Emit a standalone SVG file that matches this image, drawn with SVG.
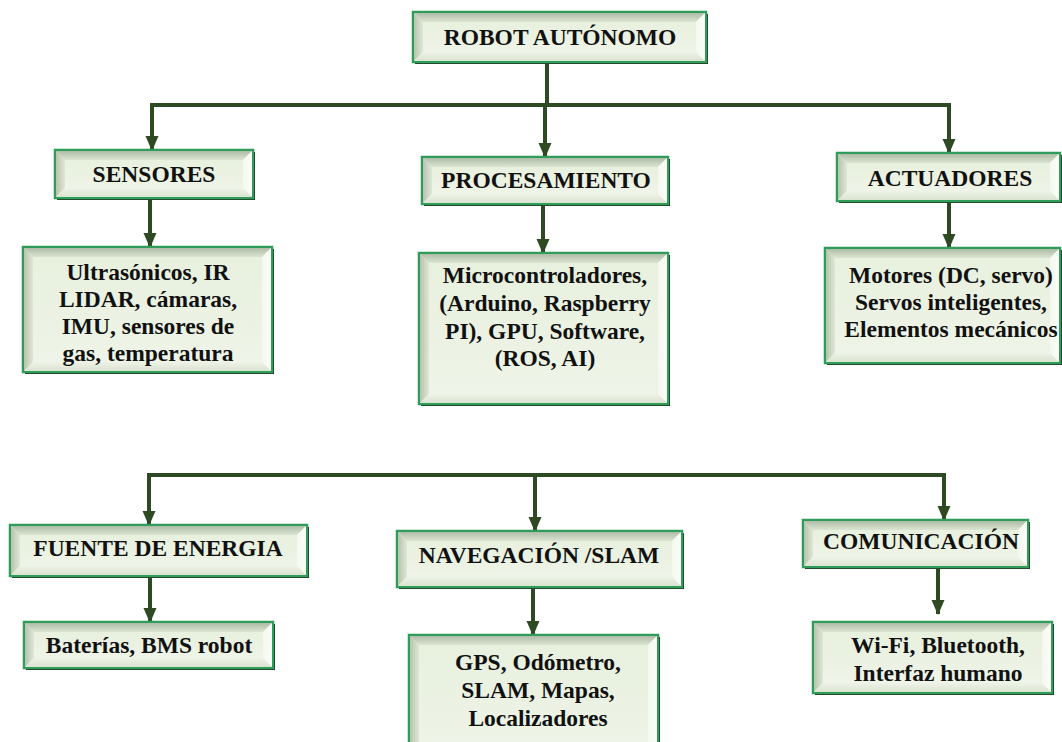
<svg xmlns="http://www.w3.org/2000/svg" width="1062" height="742" viewBox="0 0 1062 742">
  <defs>
    <linearGradient id="gTop" x1="0" y1="0" x2="0" y2="1">
      <stop offset="0" stop-color="#aebca7"/>
      <stop offset="1" stop-color="#dbe4d2"/>
    </linearGradient>
    <linearGradient id="gLeft" x1="0" y1="0" x2="1" y2="0">
      <stop offset="0" stop-color="#b6c3ae"/>
      <stop offset="1" stop-color="#dfe7d6"/>
    </linearGradient>
    <linearGradient id="gRight" x1="0" y1="0" x2="1" y2="0">
      <stop offset="0" stop-color="#f4f8ef"/>
      <stop offset="1" stop-color="#fbfdf8"/>
    </linearGradient>
    <linearGradient id="gBottom" x1="0" y1="0" x2="0" y2="1">
      <stop offset="0" stop-color="#eef3e7"/>
      <stop offset="1" stop-color="#dae3d0"/>
    </linearGradient>
    <linearGradient id="gFace" x1="0" y1="0" x2="0" y2="1">
      <stop offset="0" stop-color="#e8f0de"/>
      <stop offset="1" stop-color="#eef4e7"/>
    </linearGradient>
    <marker id="ah" markerUnits="userSpaceOnUse" markerWidth="16" markerHeight="16" viewBox="0 0 16 16" refX="14" refY="8" orient="auto">
      <path d="M0,1.5 L15,8 L0,14.5 Z" fill="#2e4a23"/>
    </marker>
  </defs>
  <style>
    .shadow { fill: #1f331f; }
    .frame { fill: url(#gFace); stroke: #2f9d59; stroke-width: 2.5; }
    .bt { fill: url(#gTop); }
    .bl { fill: url(#gLeft); }
    .br { fill: url(#gRight); }
    .bb { fill: url(#gBottom); }
    .face { fill: url(#gFace); }
    .wire { fill: none; stroke: #2e4a23; stroke-width: 4; }
    .arr { fill: none; stroke: #2e4a23; stroke-width: 4; marker-end: url(#ah); }
    text { font-family: "Liberation Serif", "Times New Roman", serif; font-weight: bold; font-size: 23.5px; fill: #111; text-anchor: middle; }
  </style>

  <rect width="1062" height="742" fill="#ffffff"/>

  <!-- connectors -->
  <g id="connectors">
    <path class="wire" d="M547,62 V105"/>
    <path class="wire" d="M152,105 H949"/>
    <path class="arr" d="M152,103 V150"/>
    <path class="arr" d="M545,105 V157"/>
    <path class="arr" d="M949,103 V153"/>
    <path class="arr" d="M150,198 V247"/>
    <path class="arr" d="M543,204 V253"/>
    <path class="arr" d="M949,201 V248"/>

    <path class="wire" d="M149,475 H944"/>
    <path class="arr" d="M149,473 V525"/>
    <path class="arr" d="M535,475 V531"/>
    <path class="arr" d="M944,473 V520"/>
    <path class="arr" d="M150,576 V622"/>
    <path class="arr" d="M533,587 V635"/>
    <path class="arr" d="M938,567 V614"/>
  </g>

  <!-- ROBOT AUTÓNOMO : 413,12 293x50 -->
  <g id="robot">
    <rect class="shadow" x="415" y="14" width="293" height="50"/>
    <rect class="frame" x="413" y="12" width="293" height="50"/>
    <polygon class="bt" points="414,13 705,13 696,22 423,22"/>
    <polygon class="bl" points="414,13 423,22 423,52 414,61"/>
    <polygon class="br" points="705,13 705,61 696,52 696,22"/>
    <polygon class="bb" points="414,61 423,52 696,52 705,61"/>
    <rect class="face" x="423" y="22" width="273" height="30"/>
    <text x="560" y="45">ROBOT AUTÓNOMO</text>
  </g>

  <!-- SENSORES : 55,150 198x48 -->
  <g id="sensores">
    <rect class="shadow" x="57" y="152" width="198" height="48"/>
    <rect class="frame" x="55" y="150" width="198" height="48"/>
    <polygon class="bt" points="56,151 252,151 243,160 65,160"/>
    <polygon class="bl" points="56,151 65,160 65,188 56,197"/>
    <polygon class="br" points="252,151 252,197 243,188 243,160"/>
    <polygon class="bb" points="56,197 65,188 243,188 252,197"/>
    <rect class="face" x="65" y="160" width="178" height="28"/>
    <text x="154" y="182">SENSORES</text>
  </g>

  <!-- sensor list : 23,247 249x125 -->
  <g id="sensores-det">
    <rect class="shadow" x="25" y="249" width="249" height="125"/>
    <rect class="frame" x="23" y="247" width="249" height="125"/>
    <polygon class="bt" points="24,248 271,248 262,257 33,257"/>
    <polygon class="bl" points="24,248 33,257 33,362 24,371"/>
    <polygon class="br" points="271,248 271,371 262,362 262,257"/>
    <polygon class="bb" points="24,371 33,362 262,362 271,371"/>
    <rect class="face" x="33" y="257" width="229" height="105"/>
    <text x="148" y="280">Ultrasónicos, IR</text>
    <text x="148" y="307">LIDAR, cámaras,</text>
    <text x="148" y="334">IMU, sensores de</text>
    <text x="148" y="361">gas, temperatura</text>
  </g>

  <!-- PROCESAMIENTO : 422,157 246x47 -->
  <g id="procesamiento">
    <rect class="shadow" x="424" y="159" width="246" height="47"/>
    <rect class="frame" x="422" y="157" width="246" height="47"/>
    <polygon class="bt" points="423,158 667,158 658,167 432,167"/>
    <polygon class="bl" points="423,158 432,167 432,194 423,203"/>
    <polygon class="br" points="667,158 667,203 658,194 658,167"/>
    <polygon class="bb" points="423,203 432,194 658,194 667,203"/>
    <rect class="face" x="432" y="167" width="226" height="27"/>
    <text x="546" y="188">PROCESAMIENTO</text>
  </g>

  <!-- processing list : 419,253 249x151 -->
  <g id="procesamiento-det">
    <rect class="shadow" x="421" y="255" width="249" height="151"/>
    <rect class="frame" x="419" y="253" width="249" height="151"/>
    <polygon class="bt" points="420,254 667,254 658,263 429,263"/>
    <polygon class="bl" points="420,254 429,263 429,394 420,403"/>
    <polygon class="br" points="667,254 667,403 658,394 658,263"/>
    <polygon class="bb" points="420,403 429,394 658,394 667,403"/>
    <rect class="face" x="429" y="263" width="229" height="131"/>
    <text x="545" y="283">Microcontroladores,</text>
    <text x="545" y="311">(Arduino, Raspberry</text>
    <text x="545" y="339">PI), GPU, Software,</text>
    <text x="545" y="366">(ROS, AI)</text>
  </g>

  <!-- ACTUADORES : 837,153 223x48 -->
  <g id="actuadores">
    <rect class="shadow" x="839" y="155" width="223" height="48"/>
    <rect class="frame" x="837" y="153" width="223" height="48"/>
    <polygon class="bt" points="838,154 1059,154 1050,163 847,163"/>
    <polygon class="bl" points="838,154 847,163 847,191 838,200"/>
    <polygon class="br" points="1059,154 1059,200 1050,191 1050,163"/>
    <polygon class="bb" points="838,200 847,191 1050,191 1059,200"/>
    <rect class="face" x="847" y="163" width="203" height="28"/>
    <text x="950" y="186">ACTUADORES</text>
  </g>

  <!-- actuator list : 825,248 235x115 -->
  <g id="actuadores-det">
    <rect class="shadow" x="827" y="250" width="235" height="115"/>
    <rect class="frame" x="825" y="248" width="235" height="115"/>
    <polygon class="bt" points="826,249 1059,249 1050,258 835,258"/>
    <polygon class="bl" points="826,249 835,258 835,353 826,362"/>
    <polygon class="br" points="1059,249 1059,362 1050,353 1050,258"/>
    <polygon class="bb" points="826,362 835,353 1050,353 1059,362"/>
    <rect class="face" x="835" y="258" width="215" height="95"/>
    <text x="951" y="283">Motores (DC, servo)</text>
    <text x="951" y="310">Servos inteligentes,</text>
    <text x="951" y="337">Elementos mecánicos</text>
  </g>

  <!-- FUENTE DE ENERGIA : 10,525 297x51 -->
  <g id="fuente">
    <rect class="shadow" x="12" y="527" width="297" height="51"/>
    <rect class="frame" x="10" y="525" width="297" height="51"/>
    <polygon class="bt" points="11,526 306,526 297,535 20,535"/>
    <polygon class="bl" points="11,526 20,535 20,566 11,575"/>
    <polygon class="br" points="306,526 306,575 297,566 297,535"/>
    <polygon class="bb" points="11,575 20,566 297,566 306,575"/>
    <rect class="face" x="20" y="535" width="277" height="31"/>
    <text x="158" y="556">FUENTE DE ENERGIA</text>
  </g>

  <!-- energy list : 24,622 249x46 -->
  <g id="fuente-det">
    <rect class="shadow" x="26" y="624" width="249" height="46"/>
    <rect class="frame" x="24" y="622" width="249" height="46"/>
    <polygon class="bt" points="25,623 272,623 263,632 34,632"/>
    <polygon class="bl" points="25,623 34,632 34,658 25,667"/>
    <polygon class="br" points="272,623 272,667 263,658 263,632"/>
    <polygon class="bb" points="25,667 34,658 263,658 272,667"/>
    <rect class="face" x="34" y="632" width="229" height="26"/>
    <text x="149" y="653">Baterías, BMS robot</text>
  </g>

  <!-- NAVEGACIÓN /SLAM : 397,531 285x56 -->
  <g id="navegacion">
    <rect class="shadow" x="399" y="533" width="285" height="56"/>
    <rect class="frame" x="397" y="531" width="285" height="56"/>
    <polygon class="bt" points="398,532 681,532 672,541 407,541"/>
    <polygon class="bl" points="398,532 407,541 407,577 398,586"/>
    <polygon class="br" points="681,532 681,586 672,577 672,541"/>
    <polygon class="bb" points="398,586 407,577 672,577 681,586"/>
    <rect class="face" x="407" y="541" width="265" height="36"/>
    <text x="539" y="563">NAVEGACIÓN /SLAM</text>
  </g>

  <!-- navigation list : 409,635 249x115 -->
  <g id="navegacion-det">
    <rect class="shadow" x="411" y="637" width="249" height="115"/>
    <rect class="frame" x="409" y="635" width="249" height="115"/>
    <polygon class="bt" points="410,636 657,636 648,645 419,645"/>
    <polygon class="bl" points="410,636 419,645 419,749 410,749"/>
    <polygon class="br" points="657,636 657,749 648,749 648,645"/>
    <rect class="face" x="419" y="645" width="229" height="104"/>
    <text x="538" y="670">GPS, Odómetro,</text>
    <text x="538" y="698">SLAM, Mapas,</text>
    <text x="538" y="726">Localizadores</text>
  </g>

  <!-- COMUNICACIÓN : 803,520 225x47 -->
  <g id="comunicacion">
    <rect class="shadow" x="805" y="522" width="225" height="47"/>
    <rect class="frame" x="803" y="520" width="225" height="47"/>
    <polygon class="bt" points="804,521 1027,521 1018,530 813,530"/>
    <polygon class="bl" points="804,521 813,530 813,557 804,566"/>
    <polygon class="br" points="1027,521 1027,566 1018,557 1018,530"/>
    <polygon class="bb" points="804,566 813,557 1018,557 1027,566"/>
    <rect class="face" x="813" y="530" width="205" height="27"/>
    <text x="921" y="549">COMUNICACIÓN</text>
  </g>

  <!-- communication list : 813,622 239x71 -->
  <g id="comunicacion-det">
    <rect class="shadow" x="815" y="624" width="239" height="71"/>
    <rect class="frame" x="813" y="622" width="239" height="71"/>
    <polygon class="bt" points="814,623 1051,623 1042,632 823,632"/>
    <polygon class="bl" points="814,623 823,632 823,683 814,692"/>
    <polygon class="br" points="1051,623 1051,692 1042,683 1042,632"/>
    <polygon class="bb" points="814,692 823,683 1042,683 1051,692"/>
    <rect class="face" x="823" y="632" width="219" height="51"/>
    <text x="938" y="653">Wi-Fi, Bluetooth,</text>
    <text x="938" y="681">Interfaz humano</text>
  </g>
</svg>
